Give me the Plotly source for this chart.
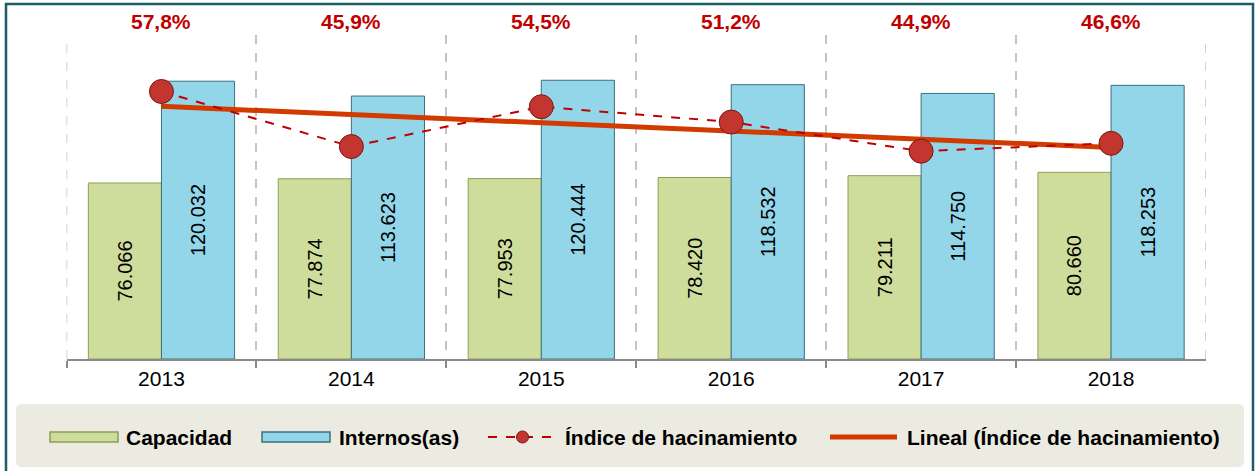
import numpy as np
import plotly.graph_objects as go

# ---- data ----
years = ["2013", "2014", "2015", "2016", "2017", "2018"]
capacidad = [76066, 77874, 77953, 78420, 79211, 80660]
internos = [120032, 113623, 120444, 118532, 114750, 118253]
indice = [0.578, 0.459, 0.545, 0.512, 0.449, 0.466]

series_names = ["Capacidad", "Internos(as)", "Índice de hacinamiento",
                "Lineal (Índice de hacinamiento)"]

# ---- styling ----
W, H = 1255, 471
FONT = "Liberation Sans, Arial, sans-serif"
GREEN = "#cfdd9c"
GREEN_LINE = "#8f9f58"
BLUE = "#93d6ea"
BLUE_LINE = "#3c6f7d"
RED = "#c00000"
TREND = "#d13b00"
MARKER = "#c3352f"
GRID = "#c4c4c4"


def px(x):
    return x / W


def py(y):
    return 1 - y / H


# linear trend (least squares, like Excel's "Lineal" trendline)
xi = np.arange(len(indice))
slope, intercept = np.polyfit(xi, indice, 1)
trend_y = [intercept + slope * xi[0], intercept + slope * xi[-1]]
trend_x = [years[0], years[-1]]

fig = go.Figure()

fig.add_trace(go.Bar(
    x=years, y=capacidad, name=series_names[0],
    marker=dict(color=GREEN, line=dict(color=GREEN_LINE, width=1)),
    texttemplate="%{y:,.0f}", textposition="inside", textangle=-90,
    insidetextanchor="middle",
    textfont=dict(family=FONT, size=20, color="black"),
    showlegend=False,
))
fig.add_trace(go.Bar(
    x=years, y=internos, name=series_names[1],
    marker=dict(color=BLUE, line=dict(color=BLUE_LINE, width=1)),
    texttemplate="%{y:,.0f}", textposition="inside", textangle=-90,
    insidetextanchor="middle",
    textfont=dict(family=FONT, size=20, color="black"),
    showlegend=False,
))
fig.add_trace(go.Scatter(
    x=trend_x, y=trend_y, name=series_names[3], yaxis="y2",
    mode="lines", line=dict(color=TREND, width=5),
    showlegend=False,
))
fig.add_trace(go.Scatter(
    x=years, y=indice, name=series_names[2], yaxis="y2",
    mode="lines+markers",
    line=dict(color=RED, width=2, dash="dash"),
    marker=dict(size=24, color=MARKER, line=dict(color="#7d1515", width=1)),
    showlegend=False,
))

# percentage labels above each category
annotations = []
for i, v in enumerate(indice):
    annotations.append(dict(
        x=i, xref="x", y=py(22), yref="paper", yanchor="middle",
        text=f"{v * 100:.1f}".replace(".", ",") + "%", showarrow=False,
        font=dict(family=FONT, size=21, color=RED, weight="bold"),
    ))

shapes = []
# dashed separators at the two outer category boundaries
for xb in (-0.5, len(years) - 0.5):
    shapes.append(dict(type="line", xref="x", yref="paper",
                       x0=xb, x1=xb, y0=py(359), y1=py(35),
                       line=dict(color=GRID, width=1.5, dash="dash"),
                       layer="below"))
# outer frame
shapes.append(dict(type="rect", xref="paper", yref="paper",
                   x0=px(6), x1=px(1253), y0=py(478), y1=py(4),
                   line=dict(color="#1b5c6a", width=2.5), layer="above"))
# legend box with rounded corners
r = 6
x0, x1, y0, y1 = 16, 1244, 404, 467
path = (f"M {px(x0 + r)} {py(y0)} L {px(x1 - r)} {py(y0)} "
        f"Q {px(x1)} {py(y0)} {px(x1)} {py(y0 + r)} "
        f"L {px(x1)} {py(y1 - r)} Q {px(x1)} {py(y1)} {px(x1 - r)} {py(y1)} "
        f"L {px(x0 + r)} {py(y1)} Q {px(x0)} {py(y1)} {px(x0)} {py(y1 - r)} "
        f"L {px(x0)} {py(y0 + r)} Q {px(x0)} {py(y0)} {px(x0 + r)} {py(y0)} Z")
shapes.append(dict(type="path", xref="paper", yref="paper", path=path,
                   fillcolor="#ecebe1", line=dict(width=0), layer="below"))

# custom legend entries
ly = 437
legend_items = [
    (50, 118, 124, "bar", GREEN, GREEN_LINE),
    (262, 330, 337, "bar", BLUE, BLUE_LINE),
    (488, 557, 563, "dash", RED, None),
    (830, 897, 905, "line", TREND, None),
]
for (sx0, sx1, tx, kind, col, lcol), name in zip(legend_items, series_names):
    if kind == "bar":
        shapes.append(dict(type="rect", xref="paper", yref="paper",
                           x0=px(sx0), x1=px(sx1), y0=py(ly + 5), y1=py(ly - 5),
                           fillcolor=col, line=dict(color=lcol, width=1.5)))
    elif kind == "dash":
        shapes.append(dict(type="line", xref="paper", yref="paper",
                           x0=px(sx0), x1=px(sx1), y0=py(ly), y1=py(ly),
                           line=dict(color=col, width=2, dash="dash")))
        cx = (sx0 + sx1) / 2
        shapes.append(dict(type="circle", xref="paper", yref="paper",
                           x0=px(cx - 6), x1=px(cx + 6), y0=py(ly + 6), y1=py(ly - 6),
                           fillcolor=MARKER, line=dict(color="#7d1515", width=1)))
    else:
        shapes.append(dict(type="line", xref="paper", yref="paper",
                           x0=px(sx0), x1=px(sx1), y0=py(ly), y1=py(ly),
                           line=dict(color=col, width=5)))
    annotations.append(dict(
        x=px(tx), xref="paper", xanchor="left", y=py(ly), yref="paper",
        yanchor="middle", text=name, showarrow=False,
        font=dict(family=FONT, size=21, color="black", weight="bold"),
    ))

fig.update_layout(
    width=W, height=H,
    margin=dict(l=0, r=0, t=0, b=0),
    paper_bgcolor="white", plot_bgcolor="white",
    separators=",.",
    barmode="group", bargap=0.23, bargroupgap=0,
    font=dict(family=FONT, size=21, color="black"),
    xaxis=dict(
        domain=[px(66.5), px(1206)],
        type="category", range=[-0.5, 5.5],
        showline=True, linecolor="#8a8a8a", linewidth=1.5,
        ticks="outside", tickson="boundaries", ticklen=7, tickcolor="#8a8a8a",
        tickwidth=1.5,
        showgrid=True, gridcolor=GRID, gridwidth=1.5, griddash="dash",
        tickfont=dict(family=FONT, size=21, color="black"),
    ),
    yaxis=dict(
        domain=[py(359), py(35)],
        range=[0, 140000], visible=False, showgrid=False, zeroline=False,
    ),
    yaxis2=dict(
        overlaying="y", range=[0, 0.7], visible=False, showgrid=False,
        zeroline=False,
    ),
    showlegend=False,
    annotations=annotations,
    shapes=shapes,
)

fig.write_html("out.html", config={"displayModeBar": False},
               post_script="document.body.style.margin='0';")
